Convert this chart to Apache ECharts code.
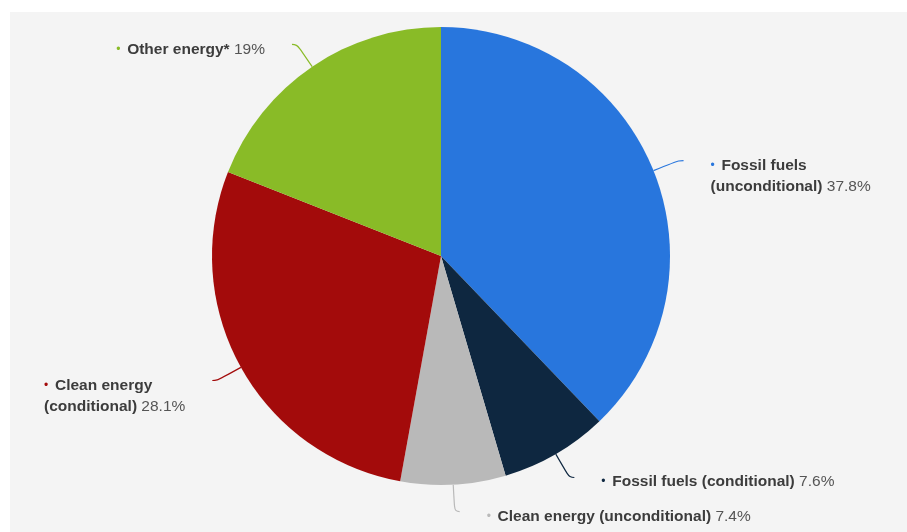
<!DOCTYPE html>
<html><head><meta charset="utf-8">
<script src="https://cdn.jsdelivr.net/npm/echarts@6/dist/echarts.min.js"></script>
<style>html,body{margin:0;padding:0;background:#fff;width:907px;height:532px;overflow:hidden}
#c{position:absolute;left:10px;top:12px;width:897px;height:520px;background:#f4f4f4}</style>
</head><body><div id="c"></div>
<script>
const categories = ['Fossil fuels (unconditional)', 'Fossil fuels (conditional)', 'Clean energy (unconditional)', 'Clean energy (conditional)', 'Other energy*'];
const values = [37.8, 7.6, 7.4, 28.1, 19];
const labelNames = ['Fossil fuels\n(unconditional)', 'Fossil fuels (conditional)', 'Clean energy (unconditional)', 'Clean energy\n(conditional)', 'Other energy*'];
const colors = ['#2876dd', '#0e2740', '#b9b9b9', '#a30b0b', '#89bb27'];
const labelPadTop = [31, 8, 10, 32, 10];

const FONT = "'Liberation Sans', Arial, sans-serif";
const rich = {
  name: {fontWeight: 'bold', color: '#3c3c3c', fontSize: 15.5, lineHeight: 21, align: 'left', fontFamily: FONT},
  val: {color: '#555', fontSize: 15.5, lineHeight: 21, align: 'left', fontFamily: FONT}
};
colors.forEach((c, i) => { rich['dot' + i] = {color: c, fontSize: 12, lineHeight: 21, align: 'left', fontFamily: FONT}; });

const chart = echarts.init(document.getElementById('c'), null, {renderer: 'canvas'});
chart.setOption({
  animation: false,
  backgroundColor: '#f4f4f4',
  series: [{
    type: 'pie',
    center: [431, 244],
    radius: 229,
    startAngle: 90,
    clockwise: true,
    avoidLabelOverlap: false,
    emphasis: {disabled: true},
    itemStyle: {borderWidth: 0},
    label: {
      show: true,
      position: 'outside',
      distanceToLabelLine: 27,
      fontFamily: FONT,
      formatter: p => {
        const i = p.dataIndex;
        const parts = labelNames[i].split('\n');
        let s = '{dot' + i + '|•  }{name|' + parts[0] + '}';
        if (parts.length > 1) s += '\n{name|' + parts[1] + '}';
        s += '{val| ' + values[i] + '%}';
        return s;
      },
      rich: rich
    },
    labelLine: {show: true, length: 27, length2: 5, smooth: 0.5, lineStyle: {width: 1.2}},
    data: values.map((v, i) => ({
      name: categories[i],
      value: v,
      itemStyle: {color: colors[i]},
      label: {padding: [labelPadTop[i], 0, 0, 0]},
      labelLine: {lineStyle: {color: colors[i]}}
    }))
  }]
});
</script></body></html>
